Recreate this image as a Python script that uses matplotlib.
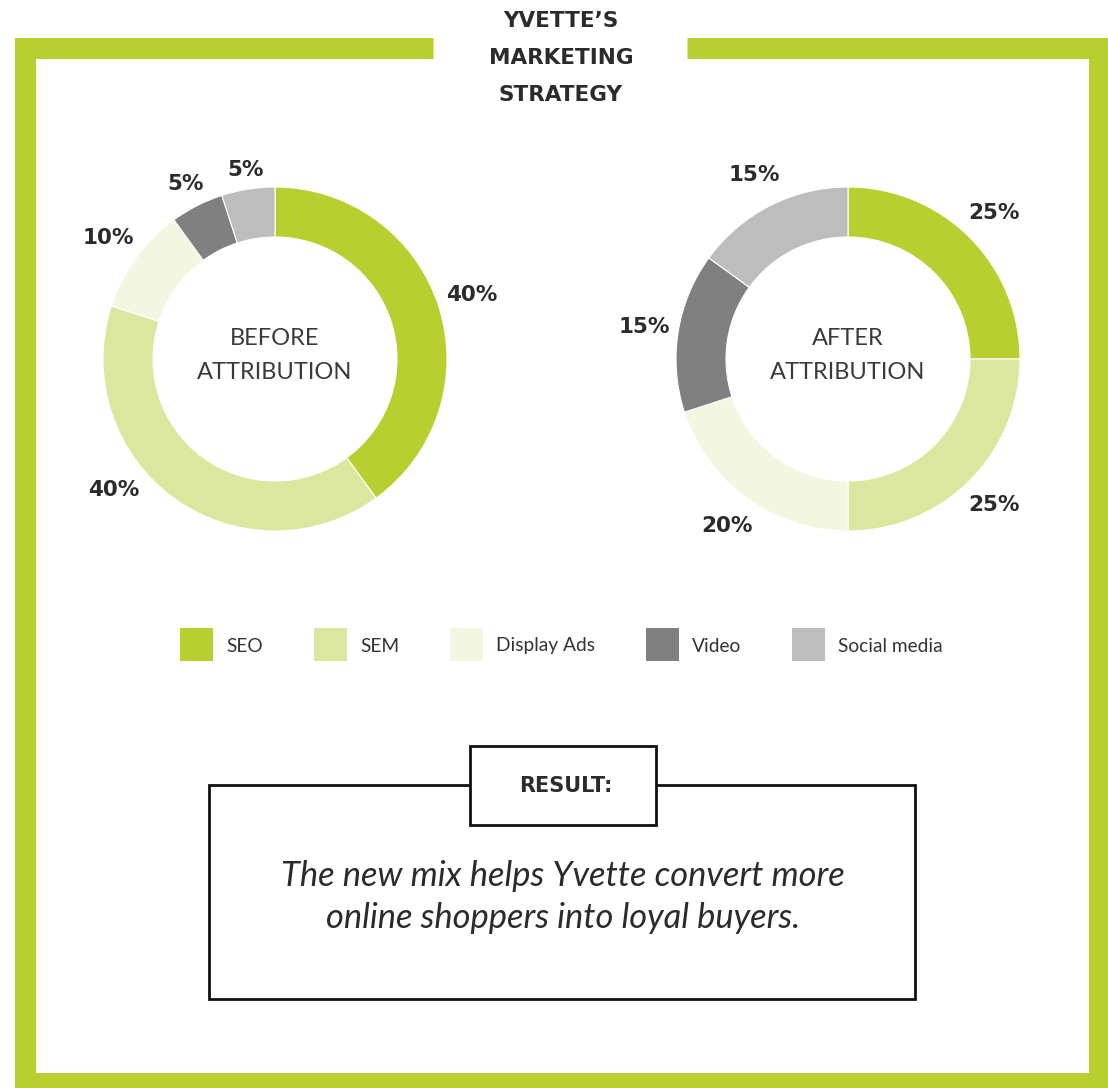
import numpy as np
import matplotlib
matplotlib.use("Agg")
import matplotlib.pyplot as plt
from matplotlib.patches import Rectangle

# data
channels = ["SEO", "SEM", "Display Ads", "Video", "Social media"]
before_share = [40, 40, 10, 5, 5]
after_share = [25, 25, 20, 15, 15]
chart_titles = ["BEFORE\nATTRIBUTION", "AFTER\nATTRIBUTION"]
title_lines = ["YVETTE\u2019S", "MARKETING", "STRATEGY"]
result_head = "RESULT:"
result_text = "The new mix helps Yvette convert more\nonline shoppers into loyal buyers."

# style
colors = ["#b9cf2f", "#dbe79e", "#f3f7e1", "#808080", "#bdbdbd"]
green = "#b9cf2f"
ink = "#2b2b2b"
W, H = 1108, 1088
# (angle deg, distance) nudges for labels that sit off the slice middle
nudge = {(0, 1): (-15, 1.21), (0, 3): (0, 1.14), (0, 4): (0, 1.11)}

fig = plt.figure(figsize=(W / 100, H / 100), dpi=100)
bg = fig.add_axes([0, 0, 1, 1])
bg.set_xlim(0, W)
bg.set_ylim(H, 0)
bg.axis("off")

# green frame with gap for the title
lw = 21
bg.plot([433, 24.5, 24.5, 1098.5, 1098.5, 687],
        [48, 48, 1082.5, 1082.5, 48, 48],
        color=green, lw=lw * 72 / 100, solid_joinstyle="miter", solid_capstyle="butt")

for i, line in enumerate(title_lines):
    bg.text(561, 21 + 37 * i, line, ha="center", va="center", fontsize=15.5,
            fontweight="bold", family="DejaVu Sans", color=ink)

# donuts
centers = [(275, 359), (848, 359)]
R = 172
span = 1.3
for k, (vals, (cx, cy)) in enumerate(zip([before_share, after_share], centers)):
    half = span * R
    ax = fig.add_axes([(cx - half) / W, (H - cy - half) / H, 2 * half / W, 2 * half / H])
    wedges, texts = ax.pie(vals, colors=colors, startangle=90, counterclock=False,
                           labels=[f"{v}%" for v in vals], labeldistance=1.2,
                           wedgeprops=dict(width=50 / R, edgecolor="white", linewidth=0.8),
                           textprops=dict(fontsize=15.5, fontweight="bold",
                                          family="DejaVu Sans", color=ink))
    ax.set_xlim(-span, span)
    ax.set_ylim(-span, span)
    ax.set_aspect("equal")
    ax.axis("off")
    for j, (w, t) in enumerate(zip(wedges, texts)):
        t.set_ha("center")
        t.set_va("center")
        if (k, j) in nudge:
            da, dist = nudge[(k, j)]
            ang = np.deg2rad((w.theta1 + w.theta2) / 2 + da)
            t.set_position((dist * np.cos(ang), dist * np.sin(ang)))
    ax.text(0, 0.02, chart_titles[k], ha="center", va="center", fontsize=17,
            family="Lato", color="#3a3a3a", linespacing=1.75)

# legend
leg_x = [180, 314, 450, 646, 792]
for x, c, name in zip(leg_x, colors, channels):
    bg.add_patch(Rectangle((x, 628), 33, 33, color=c, lw=0))
    bg.text(x + 46, 646, name, ha="left", va="center", fontsize=13.8,
            family="Lato", color="#333333")

# result box
bg.add_patch(Rectangle((209, 785), 706, 214, fill=False, ec="#111111", lw=2))
bg.add_patch(Rectangle((470, 746), 186, 79, fc="white", ec="#111111", lw=2, zorder=3))
bg.text(566, 786, result_head, ha="center", va="center", fontsize=15,
        fontweight="bold", family="DejaVu Sans", color=ink, zorder=4)
bg.text(563, 897, result_text, ha="center", va="center", fontsize=24.8,
        family="Lato", style="italic", color=ink, linespacing=1.4)

fig.savefig("out.png", dpi=100, facecolor="white")
